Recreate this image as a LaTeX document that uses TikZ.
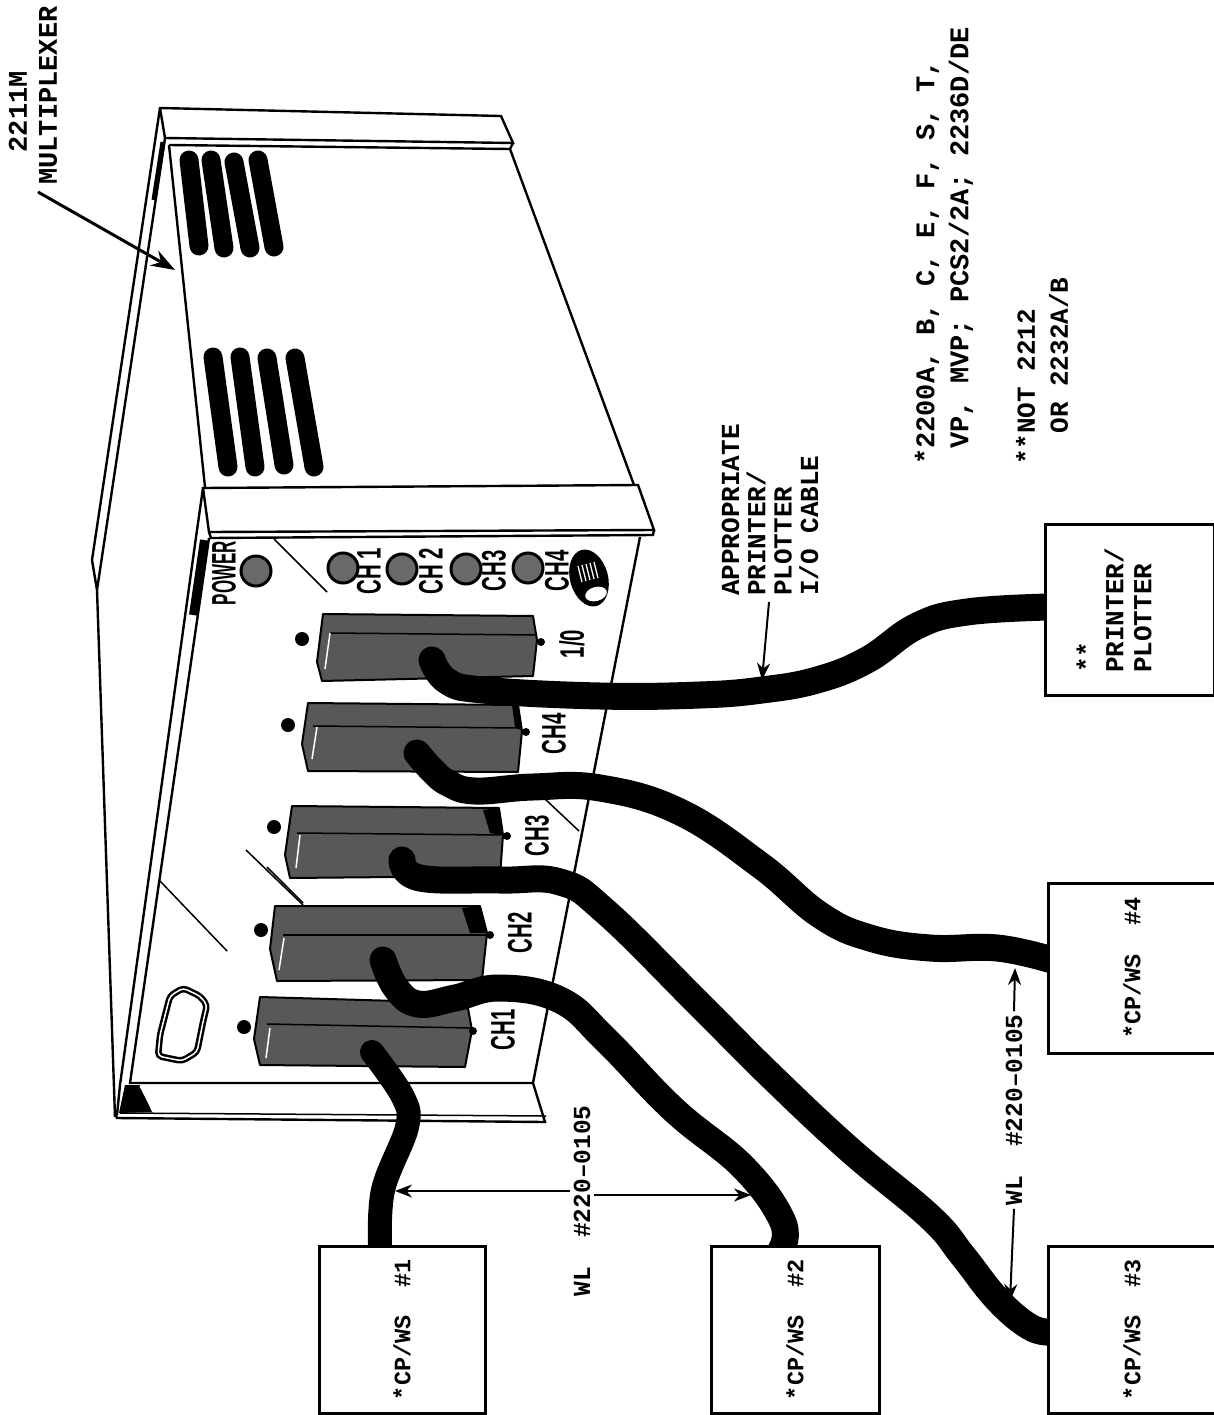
\documentclass[tikz,border=0pt]{standalone}
\usepackage{fontspec}
\usepackage{graphicx}
\setmonofont{Liberation Mono}
\setsansfont{Liberation Sans}
\usetikzlibrary{calc, arrows.meta}
\definecolor{plugshade}{RGB}{88,88,88}
\definecolor{ledshade}{RGB}{105,105,105}
\newcommand{\paneltext}[1]{\scalebox{0.6}[1]{#1}}
\tikzset{
  edgeline/.style={line width=2.4pt, line join=miter},
  thinline/.style={line width=1.5pt},
  louver/.style={line width=19pt, line cap=round},
  plug/.style={draw, line width=2pt, fill=plugshade, line join=round},
  cable/.style={line width=27pt, line cap=round, line join=round},
  led/.style={circle, draw, line width=3pt, fill=ledshade, minimum size=30pt, inner sep=0pt},
  plugdot/.style={circle, fill, minimum size=14pt, inner sep=0pt},
  cpbox/.style={draw, fill=white, line width=3pt, rotate=90, inner sep=0pt,
                font=\ttfamily\bfseries\fontsize{23.5}{24}\selectfont},
  note/.style={rotate=90, anchor=west, align=left, inner sep=0pt,
               font=\ttfamily\bfseries\fontsize{26}{26}\selectfont},
  partno/.style={rotate=90, inner sep=3pt, font=\ttfamily\bfseries\fontsize{24.5}{25}\selectfont},
  panellabel/.style={rotate=90, inner sep=0pt, font=\sffamily\bfseries\fontsize{34}{34}\selectfont},
  leader/.style={line width=2pt, -{Stealth[length=17pt,width=13pt]}}
}
\begin{document}
\begin{tikzpicture}[x=1pt, y=-1pt]
  \useasboundingbox (0,0) rectangle (1214,1415);

  \draw[edgeline] (97,590) -- (92,560) -- (160,108) -- (501,116) -- (513,143) -- (165,138) -- (97,590) -- (115,1117);
  \draw[edgeline] (160,108) -- (165,138);
  \draw[line width=5pt] (163,142) -- (154,200);
  \draw[edgeline] (169,145) -- (510,149) -- (513,143);
  \draw[edgeline] (169,145) -- (205,487);
  \draw[edgeline] (510,149) -- (634,485);

  \draw[louver] (189,160) -- (199,246);
  \draw[louver] (211,160) -- (224,248);
  \draw[louver] (234,162) -- (250,248);
  \draw[louver] (258,160) -- (274,247);
  \draw[louver] (213,357) -- (228,467);
  \draw[louver] (240,357) -- (255,467);
  \draw[louver] (267,358) -- (284,465);
  \draw[louver] (295,358) -- (314,467);

  \draw[edgeline, fill=white] (203,488) -- (638,485) -- (654,530) -- (209,532) -- cycle;
  \draw[edgeline] (209,532) -- (211,538) -- (653,535) -- (654,530);
  \draw[edgeline] (203,488) -- (197,530) -- (120,1085) -- (117,1115);
  \draw[edgeline] (209,538) -- (130,1083) -- (533,1083);
  \draw[line width=8pt] (204,540) -- (193,615);
  \draw[edgeline] (640,537) -- (533,1083) -- (545,1122) -- (117,1118) -- (115,1112);
  \draw[thinline] (120,1113) -- (546,1116);
  \fill (125,1085) -- (140,1085) -- (152,1112) -- (119,1113) -- cycle;
  \draw[white, line width=1.2pt] (140,1086) -- (153,1111);

  \draw[thinline] (274,539) -- (327,592);
  \draw[thinline] (160,881) -- (227,951);
  \draw[thinline] (246,850) -- (303,905);
  \draw[thinline] (267,867) -- (303,903);
  \draw[thinline] (545,799) -- (579,831);

  \draw[line width=2.5pt, double, double distance=1.5pt, rounded corners=4pt]
    (170,996) -- (183,988) -- (200,996) -- (207,1005) -- (203,1022) -- (197,1052) -- (182,1061) -- (158,1056) -- (160,1035) -- cycle;

  \node[led] (ledpower) at (256,571) {};
  \node[led] (ledone) at (343,568) {};
  \node[led] (ledtwo) at (402,569) {};
  \node[led] (ledthree) at (466,569) {};
  \node[led] (ledfour) at (528,568) {};
  \node[panellabel] (lblpower) at (224,573) {\scalebox{0.5}[1]{POWER}};
  \node[panellabel] (lblone) at (369,571) {\paneltext{CH 1}};
  \node[panellabel] (lbltwo) at (431,571) {\paneltext{CH 2}};
  \node[panellabel] (lblthree) at (494,571) {\paneltext{CH3}};
  \node[panellabel] (lblfour) at (557,571) {\paneltext{CH4}};

  \fill[rotate around={15:(589,578)}] (589,578) ellipse (19 and 29);
  \foreach \k in {0,...,4} {
    \draw[white, line width=1.3pt] (578+4*\k,566-\k) -- (582+4*\k,582-\k);
  }
  \fill[white, rotate around={15:(596,594)}] (596,594) ellipse (11 and 7);

  \draw[plug] (323,614) -- (533,616) -- (537,640) -- (533,676) -- (322,681) -- (317,662) -- cycle;
  \draw[thinline] (330,633) -- (537,635);
  \draw[white, line width=1.5pt] (330,633) -- (325,669);
  \draw[plug] (308,703) -- (518,705) -- (522,731) -- (518,772) -- (308,771) -- (302,744) -- cycle;
  \draw[thinline] (313,726) -- (520,728);
  \fill (512,705) -- (518,705) -- (522,731) -- (515,727) -- cycle;
  \draw[white, line width=1.5pt] (317,727) -- (312,759);
  \draw[plug] (292,806) -- (499,808) -- (503,835) -- (500,876) -- (290,878) -- (285,855) -- cycle;
  \draw[thinline] (297,833) -- (503,835);
  \fill (483,810) -- (499,808) -- (503,835) -- (490,833) -- cycle;
  \draw[white, line width=1.5pt] (300,835) -- (296,868);
  \draw[plug] (275,906) -- (480,906) -- (487,933) -- (482,980) -- (277,981) -- (270,949) -- cycle;
  \draw[thinline] (283,935) -- (487,935);
  \fill (462,908) -- (480,906) -- (487,933) -- (470,933) -- cycle;
  \draw[white, line width=1.5pt] (284,938) -- (279,970);
  \draw[plug] (260,997) -- (467,1003) -- (472,1030) -- (465,1067) -- (260,1065) -- (254,1039) -- cycle;
  \draw[thinline] (267,1024) -- (470,1028);
  \draw[white, line width=1.5pt] (270,1028) -- (266,1058);

  \node[plugdot] (dotio) at (302,639) {};
  \node[plugdot] (dotfour) at (288,725) {};
  \node[plugdot] (dotthree) at (274,827) {};
  \node[plugdot] (dottwo) at (261,930) {};
  \node[plugdot] (dotone) at (244,1027) {};
  \fill (541,642) circle (4);
  \fill (526,732) circle (4);
  \fill (507,836) circle (4);
  \fill (490,935) circle (4);
  \fill (473,1031) circle (4);

  \node[panellabel] (lblio) at (572,644) {\paneltext{1/0}};
  \node[panellabel] (lblchfour) at (554,734) {\paneltext{CH4}};
  \node[panellabel] (lblchthree) at (537,836) {\paneltext{CH3}};
  \node[panellabel] (lblchtwo) at (520,933) {\paneltext{CH2}};
  \node[panellabel] (lblchone) at (503,1030) {\paneltext{CH1}};

  \coordinate (plugone) at (372,1052);
  \coordinate (plugtwo) at (383,960);
  \coordinate (plugthree) at (402,860);
  \coordinate (plugfour) at (417,753);
  \coordinate (plugio) at (432,660);
  \coordinate (endone) at (380,1248);
  \coordinate (endtwo) at (782,1248);
  \coordinate (endthree) at (1052,1332);
  \coordinate (endfour) at (1052,960);
  \coordinate (endio) at (1048,607);

  \draw[cable, line width=24pt] plot[smooth, tension=0.6] coordinates
    {(plugone) (403,1097) (407,1127) (383,1190) (endone)};
  \draw[cable] plot[smooth, tension=0.7] coordinates
    {(plugtwo) (396,988) (418,1004) (455,998) (500,988) (560,1000) (606,1040) (674,1110) (743,1167) (782,1220) (endtwo)};
  \draw[cable] plot[smooth, tension=0.7] coordinates
    {(plugthree) (420,878) (500,880) (560,882) (606,912) (700,1005) (770,1075) (850,1150) (930,1217) (963,1256) (997,1299) (1030,1327) (endthree)};
  \draw[cable] plot[smooth, tension=0.7] coordinates
    {(plugfour) (432,770) (448,783) (475,791) (533,787) (600,788) (680,812) (760,865) (820,915) (870,938) (930,948) (997,948) (endfour)};
  \draw[cable] plot[smooth, tension=0.7] coordinates
    {(plugio) (447,681) (483,690) (600,696) (700,695) (762,690) (817,680) (867,660) (917,626) (967,612) (endio)};

  \node[cpbox, minimum width=167pt, minimum height=166pt] (cpone) at (402,1329.5) {*CP/WS~~\#1};
  \node[cpbox, minimum width=167pt, minimum height=168pt] (cptwo) at (795,1329.5) {*CP/WS~~\#2};
  \node[cpbox, minimum width=167pt, minimum height=168pt] (cpthree) at (1132,1329.5) {*CP/WS~~\#3};
  \node[cpbox, minimum width=170pt, minimum height=168pt] (cpfour) at (1132,968) {*CP/WS~~\#4};
  \node[draw, fill=white, line width=3pt, minimum width=171pt, minimum height=169pt, rotate=90] (printer) at (1130,609.5) {};
  \node[note, font=\ttfamily\bfseries\fontsize{26}{28}\selectfont] (printerlabel) at (1114,673) {**\\PRINTER/\\PLOTTER};

  \node[note, font=\ttfamily\bfseries\fontsize{27}{30}\selectfont] (muxlabel) at (33,185) {~~2211M\\MULTIPLEXER};
  \node[note, font=\ttfamily\bfseries\fontsize{26}{26.3}\selectfont] (cablelabel) at (770,596) {APPROPRIATE\\PRINTER/\\PLOTTER\\I/O CABLE};
  \node[note, font=\ttfamily\bfseries\fontsize{27}{34}\selectfont] (cpulabel) at (944,465) {*2200A, B, C, E, F, S, T,\\~VP, MVP; PCS2/2A; 2236D/DE};
  \node[note, font=\ttfamily\bfseries\fontsize{26}{33}\selectfont] (notlabel) at (1042,465) {**NOT 2212\\~~OR 2232A/B};

  \coordinate (muxtail) at (38,192);
  \coordinate (muxtip) at (175,270);
  \draw[line width=3pt, -{Stealth[length=24pt,width=17pt]}] (muxtail) -- (muxtip);
  \coordinate (iotail) at (769,602);
  \coordinate (iotip) at (762,680);
  \draw[leader] (iotail) -- (iotip);

  \node[partno] (wlleft) at (582,1201) {WL~~\#220–0105};
  \coordinate (wlone) at (395,1191);
  \coordinate (wltwo) at (751,1195);
  \draw[leader] (wlleft.north |- wlone) -- (wlone);
  \draw[leader] (wlleft.south |- wltwo) -- (wltwo);

  \node[partno] (wlright) at (1014,1110) {WL~~\#220–0105};
  \coordinate (wlfour) at (1015,968);
  \coordinate (wlthree) at (1010,1301);
  \draw[leader] (wlright.east) -- (wlfour);
  \draw[leader] (wlright.west) -- (wlthree);
\end{tikzpicture}
\end{document}
